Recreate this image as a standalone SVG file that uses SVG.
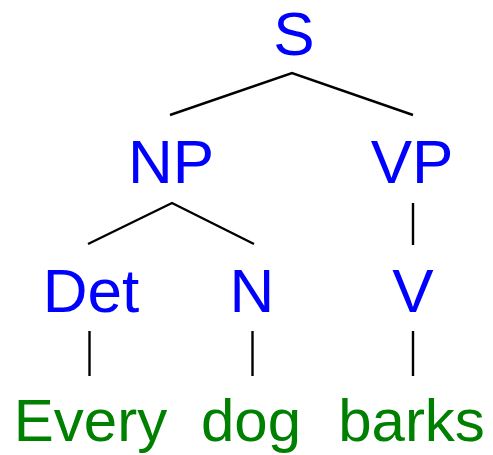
<svg xmlns="http://www.w3.org/2000/svg" width="493" height="455" viewBox="0 0 493 455">
<style>
.cat{font-family:"Liberation Sans",Arial,sans-serif;font-size:62px;fill:#0000ff;text-anchor:middle}
.word{font-family:"Liberation Sans",Arial,sans-serif;font-size:60px;fill:#008000;text-anchor:middle}
.edge{stroke:#000;stroke-width:2.4;fill:none}
</style>
<rect width="493" height="455" fill="#fff"/>
<g id="connectors">
<polyline class="edge" points="170,115 292,73 413,115"/>
<polyline class="edge" points="88,244 172,203 254,244"/>
<line class="edge" x1="413" y1="203" x2="413" y2="245"/>
<line class="edge" x1="89.5" y1="331" x2="89.5" y2="376"/>
<line class="edge" x1="252.5" y1="331" x2="252.5" y2="376"/>
<line class="edge" x1="413" y1="331" x2="413" y2="376"/>
</g>
<g id="S"><text class="cat" x="294" y="55">S</text></g>
<g id="NP"><text class="cat" x="171" y="183">NP</text></g>
<g id="VP"><text class="cat" x="412" y="183">VP</text></g>
<g id="Det"><text class="cat" x="91" y="312">Det</text></g>
<g id="N"><text class="cat" x="252" y="312">N</text></g>
<g id="V"><text class="cat" x="413" y="312">V</text></g>
<g id="Every"><text class="word" x="90.5" y="441">Every</text></g>
<g id="dog"><text class="word" x="251" y="441">dog</text></g>
<g id="barks"><text class="word" x="411.5" y="441">barks</text></g>
</svg>
